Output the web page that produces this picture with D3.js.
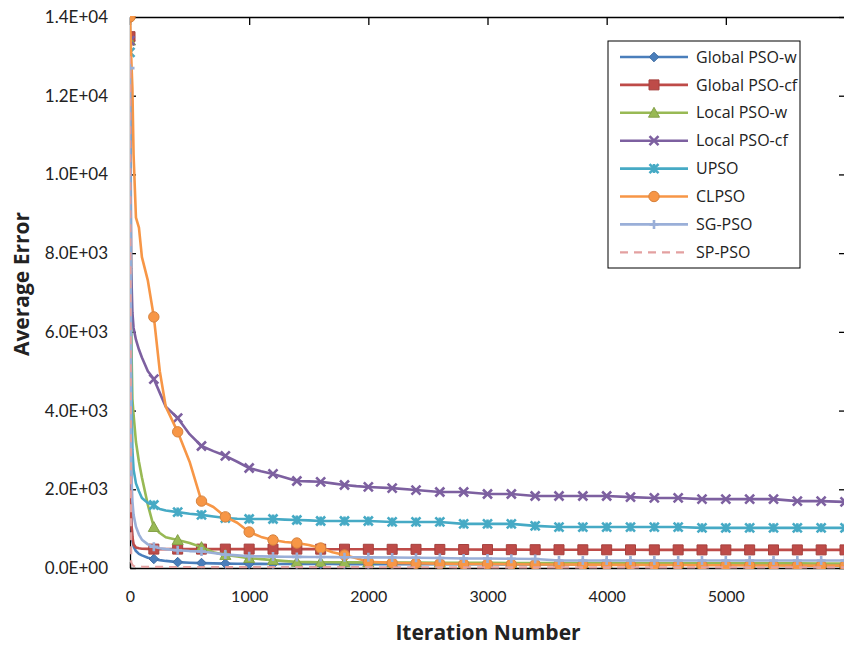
<!DOCTYPE html>
<html>
<head>
<meta charset="utf-8">
<script src="https://cdn.jsdelivr.net/npm/d3@7"></script>
<style>
  body { margin: 0; background: #fff; }
  text { font-family: Lato, "Open Sans", sans-serif; fill: #222; }
</style>
</head>
<body>
<script>
// iteration grid (markers are shown every 200 iterations)
const iterations = [0, 10, 20, 30, 50, 75, 100, 150, 200, 250, 300,
  400, 500, 600, 700, 800, 900, 1000, 1100, 1200, 1300, 1400, 1500, 1600, 1700, 1800, 1900, 2000,
  2200, 2400, 2600, 2800, 3000, 3200, 3400, 3600, 3800, 4000, 4200, 4400, 4600, 4800, 5000,
  5200, 5400, 5600, 5800, 6000];

// average error per method
const globalPsoW = [13400, 1300, 700, 550, 430, 360, 320, 260, 230, 200, 180,
  150, 135, 125, 118, 112, 108, 105, 104, 103, 102, 101, 100, 100, 100, 99, 98, 97,
  96, 95, 95, 94, 94, 93, 93, 92, 92, 91, 91, 90, 90, 90, 89,
  89, 88, 88, 88, 88];
const globalPsoCf = [13500, 1200, 800, 600, 520, 500, 490, 485, 480, 480, 480,
  480, 480, 480, 480, 480, 480, 480, 480, 480, 480, 480, 480, 478, 478, 478, 476, 476,
  475, 474, 472, 470, 468, 466, 465, 464, 463, 462, 462, 461, 461, 460, 460,
  460, 460, 460, 460, 460];
const localPsoW = [13400, 6000, 4300, 3900, 3200, 2700, 2300, 1600, 1040, 890, 780,
  710, 635, 530, 400, 330, 290, 250, 225, 200, 175, 155, 150, 148, 146, 144, 142, 140,
  138, 136, 134, 132, 130, 128, 126, 125, 124, 123, 122, 121, 120, 120, 119,
  118, 118, 117, 116, 115];
const localPsoCf = [13400, 7600, 6500, 6100, 5800, 5550, 5350, 5000, 4800, 4450, 4100,
  3810, 3400, 3100, 2970, 2850, 2700, 2540, 2460, 2390, 2300, 2210, 2200, 2190, 2150, 2110, 2080, 2060,
  2030, 1980, 1930, 1930, 1880, 1880, 1830, 1830, 1830, 1830, 1800, 1780, 1780, 1750, 1750,
  1750, 1750, 1700, 1700, 1680];
const upso = [13100, 5000, 3000, 2500, 2150, 1950, 1780, 1650, 1600, 1500, 1460,
  1420, 1380, 1350, 1310, 1270, 1250, 1245, 1245, 1245, 1230, 1220, 1210, 1195, 1195, 1195, 1195, 1195,
  1170, 1170, 1170, 1120, 1120, 1120, 1070, 1040, 1040, 1040, 1040, 1040, 1040, 1020, 1020,
  1020, 1020, 1020, 1020, 1020];
const clpso = [14000, 13000, 12200, 10500, 8900, 8650, 7900, 7300, 6380, 5000, 4100,
  3460, 2700, 1700, 1550, 1300, 1150, 915, 790, 711, 660, 635, 584, 508, 400, 330, 250, 160,
  130, 120, 110, 100, 100, 95, 90, 90, 85, 80, 80, 75, 75, 70, 70,
  65, 65, 60, 60, 60];
const sgPso = [12700, 2500, 1700, 1350, 1050, 850, 720, 600, 540, 500, 480,
  450, 430, 420, 380, 340, 320, 300, 295, 290, 285, 282, 280, 278, 276, 274, 272, 270,
  265, 260, 255, 240, 240, 235, 230, 190, 190, 190, 190, 190, 190, 190, 190,
  190, 190, 190, 190, 190];
const spPso = [13000, 150, 80, 50, 40, 35, 32, 30, 28, 27, 26,
  25, 25, 24, 24, 23, 23, 22, 22, 22, 21, 21, 21, 20, 20, 20, 20, 20,
  19, 19, 19, 18, 18, 18, 18, 17, 17, 17, 17, 16, 16, 16, 16,
  15, 15, 15, 15, 15];

const seriesNames = ["Global PSO-w", "Global PSO-cf", "Local PSO-w", "Local PSO-cf",
  "UPSO", "CLPSO", "SG-PSO", "SP-PSO"];
const seriesValues = [globalPsoW, globalPsoCf, localPsoW, localPsoCf, upso, clpso, sgPso, spPso];

const xTicks = [0, 1000, 2000, 3000, 4000, 5000];
const xTickLabels = ["0", "1000", "2000", "3000", "4000", "5000"];
const yTicks = [0, 2000, 4000, 6000, 8000, 10000, 12000, 14000];
const yTickLabels = ["0.0E+00", "2.0E+03", "4.0E+03", "6.0E+03", "8.0E+03", "1.0E+04", "1.2E+04", "1.4E+04"];

// look of each series (same order as names)
const styles = [
  { color: "#4a7ebb", marker: "diamond" },
  { color: "#be4b48", marker: "square" },
  { color: "#98b954", marker: "triangle" },
  { color: "#7d60a0", marker: "x" },
  { color: "#46aac5", marker: "star" },
  { color: "#f79646", marker: "circle" },
  { color: "#9aafd8", marker: "plus" },
  { color: "#e3a0a0", marker: "none", dash: "8,6" }
];

const W = 844, H = 645;
const plot = { left: 130, top: 17, right: 845, bottom: 568 };

const svg = d3.select("body").append("svg")
  .attr("width", W).attr("height", H);

const x = d3.scaleLinear().domain([0, 6000]).range([plot.left, plot.right]);
const y = d3.scaleLinear().domain([0, 14000]).range([plot.bottom, plot.top]);

svg.append("clipPath").attr("id", "clip")
  .append("rect")
  .attr("x", plot.left).attr("y", plot.top - 1)
  .attr("width", plot.right - plot.left).attr("height", plot.bottom - plot.top + 2);

// axes: ticks point inward, like the excel original
const fmtX = v => xTickLabels[xTicks.indexOf(v)];
const fmtY = v => yTickLabels[yTicks.indexOf(v)];

const gx = svg.append("g").attr("transform", `translate(0,${plot.bottom})`)
  .call(d3.axisBottom(x).tickValues(xTicks).tickFormat(fmtX).tickSize(-6).tickSizeOuter(0).tickPadding(23));
const gy = svg.append("g").attr("transform", `translate(${plot.left},0)`)
  .call(d3.axisLeft(y).tickValues(yTicks).tickFormat(fmtY).tickSize(-6).tickSizeOuter(0).tickPadding(22));
svg.append("g").attr("transform", `translate(0,${plot.top})`)
  .call(d3.axisTop(x).tickValues(xTicks).tickFormat("").tickSize(-8).tickSizeOuter(0));
svg.append("g").attr("transform", `translate(${plot.right},0)`)
  .call(d3.axisRight(y).tickValues(yTicks).tickFormat("").tickSize(-6).tickSizeOuter(0));

svg.selectAll(".domain, .tick line").attr("stroke", "#000").attr("stroke-width", 1.3);
gx.selectAll("text").attr("font-size", 16).style("font-family", "Lato");
gy.selectAll("text").attr("font-size", 17).style("font-family", "Lato");

// marker shapes
function markerPath(type, s) {
  switch (type) {
    case "diamond": return `M0,${-s}L${s},0L0,${s}L${-s},0Z`;
    case "square": return `M${-s},${-s}H${s}V${s}H${-s}Z`;
    case "triangle": return `M0,${-s}L${s},${s * 0.8}L${-s},${s * 0.8}Z`;
    case "circle": return d3.symbol(d3.symbolCircle, Math.PI * s * s)();
    case "x": return `M${-s},${-s}L${s},${s}M${-s},${s}L${s},${-s}`;
    case "star": return `M${-s},${-s}L${s},${s}M${-s},${s}L${s},${-s}M0,${-s}V${s}`;
    case "plus": return `M0,${-s}V${s}M${-s},0H${s}`;
  }
  return "";
}
const markerSize = { diamond: 4.8, square: 5, triangle: 5.5, circle: 5.2, x: 4.5, star: 4.5, plus: 4.5 };
const filled = m => ["diamond", "square", "triangle", "circle"].includes(m);

function drawMarker(g, type, color, cx, cy) {
  const p = g.append("path")
    .attr("d", markerPath(type, markerSize[type]))
    .attr("transform", `translate(${cx},${cy})`);
  if (filled(type)) p.attr("fill", color).attr("stroke", d3.color(color).darker(0.4)).attr("stroke-width", 1);
  else p.attr("fill", "none").attr("stroke", color).attr("stroke-width", 2.6);
}

const line = d3.line()
  .x((d, i) => x(iterations[i]))
  .y(d => y(d));

const plotG = svg.append("g").attr("clip-path", "url(#clip)");

seriesValues.forEach((vals, k) => {
  const st = styles[k];
  plotG.append("path")
    .datum(vals)
    .attr("d", line)
    .attr("fill", "none")
    .attr("stroke", st.color)
    .attr("stroke-width", st.dash ? 2.2 : 2.6)
    .attr("stroke-dasharray", st.dash || null)
    .attr("stroke-linejoin", "round");
  if (st.marker !== "none") {
    const mg = plotG.append("g");
    vals.forEach((v, i) => {
      if (iterations[i] % 200 === 0) drawMarker(mg, st.marker, st.color, x(iterations[i]), y(v));
    });
  }
});

// axis titles
svg.append("text")
  .attr("x", 488).attr("y", 640)
  .attr("text-anchor", "middle")
  .attr("font-size", 21).attr("font-weight", "bold")
  .style("font-family", "'Open Sans'")
  .text("Iteration Number");
svg.append("text")
  .attr("transform", "translate(29,284) rotate(-90)")
  .attr("text-anchor", "middle")
  .attr("font-size", 21).attr("font-weight", "bold")
  .style("font-family", "'Open Sans'")
  .text("Average Error");

// legend
const lg = svg.append("g");
lg.append("rect")
  .attr("x", 608).attr("y", 41).attr("width", 192).attr("height", 227)
  .attr("fill", "#fff").attr("stroke", "#000").attr("stroke-width", 1);
seriesNames.forEach((name, k) => {
  const st = styles[k];
  const cy = 57 + k * 27.9;
  lg.append("line")
    .attr("x1", 620).attr("x2", 688).attr("y1", cy).attr("y2", cy)
    .attr("stroke", st.color).attr("stroke-width", st.dash ? 2.2 : 2.6)
    .attr("stroke-dasharray", st.dash || null);
  if (st.marker !== "none") drawMarker(lg, st.marker, st.color, 654, cy);
  lg.append("text")
    .attr("x", 696).attr("y", cy).attr("dy", "0.35em")
    .attr("font-size", 16)
    .style("font-family", "'Open Sans'")
    .text(name);
});
</script>
</body>
</html>
